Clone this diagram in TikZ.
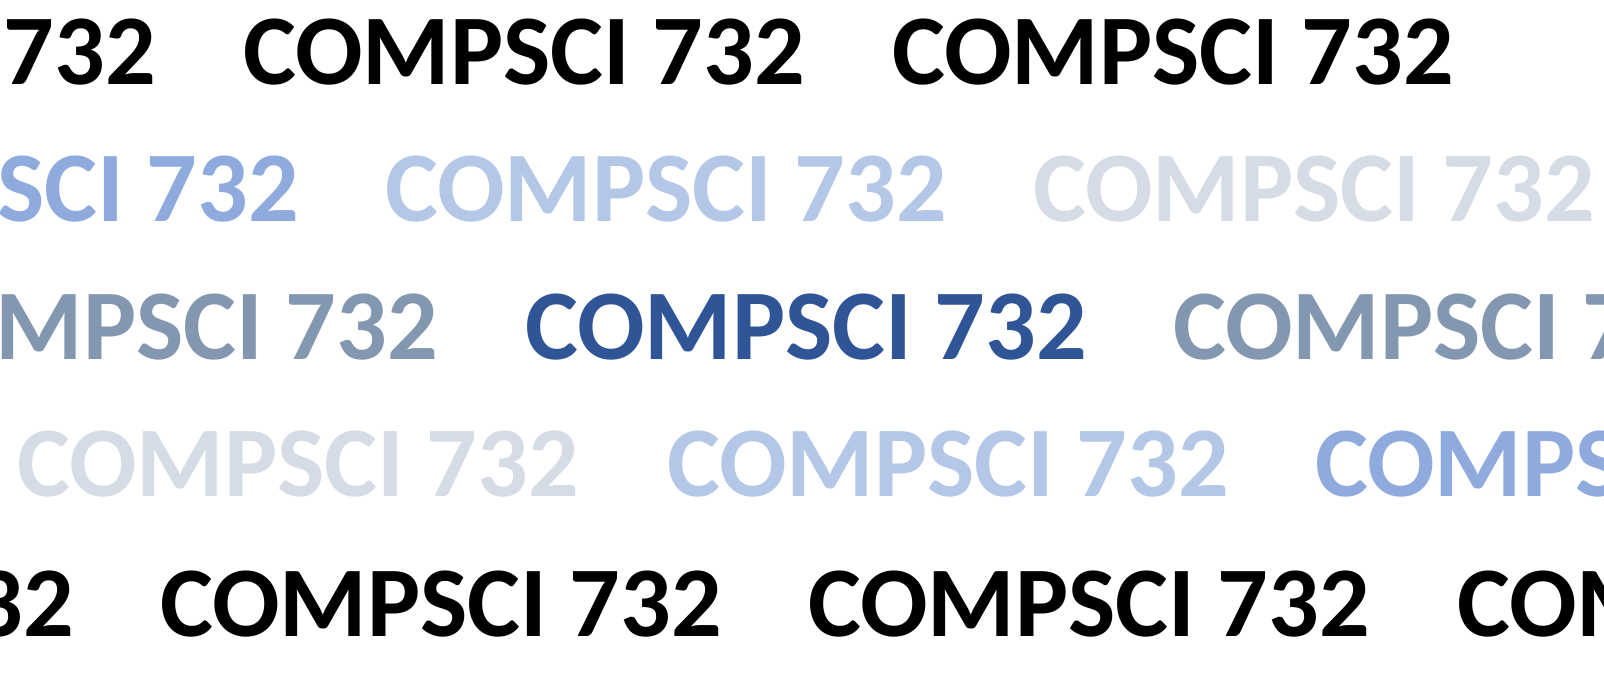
\documentclass[tikz,border=0pt]{standalone}
\usepackage{fontspec}
\setmainfont{Carlito}
\definecolor{cblack}{HTML}{000000}
\definecolor{cmid}{HTML}{8FAADC}
\definecolor{clight}{HTML}{B4C7E7}
\definecolor{cpale}{HTML}{D6DCE5}
\definecolor{cgray}{HTML}{8497B0}
\definecolor{cdark}{HTML}{2F5597}
\begin{document}
\begin{tikzpicture}[x=1pt,y=1pt,
  lbl/.style={anchor=base west,inner sep=0pt,outer sep=0pt,font=\fontsize{100}{100}\selectfont\bfseries}]
\useasboundingbox (0,0) rectangle (1604,685);
\clip (0,0) rectangle (1604,685);
% row 1
\node[lbl,text=cblack] (r1a) at (-406,600) {COMPSCI 732};
\node[lbl,text=cblack] (r1b) at (243,600) {COMPSCI 732};
\node[lbl,text=cblack] (r1c) at (892,600) {COMPSCI 732};
% row 2
\node[lbl,text=cmid] (r2a) at (-263,463) {COMPSCI 732};
\node[lbl,text=clight] (r2b) at (385,463) {COMPSCI 732};
\node[lbl,text=cpale] (r2c) at (1033,463) {COMPSCI 732};
% row 3
\node[lbl,text=cgray] (r3a) at (-124,325) {COMPSCI 732};
\node[lbl,text=cdark] (r3b) at (525,325) {COMPSCI 732};
\node[lbl,text=cgray] (r3c) at (1173,325) {COMPSCI 732};
% row 4
\node[lbl,text=cpale] (r4a) at (17,188) {COMPSCI 732};
\node[lbl,text=clight] (r4b) at (667,188) {COMPSCI 732};
\node[lbl,text=cmid] (r4c) at (1315,188) {COMPSCI 732};
% row 5
\node[lbl,text=cblack] (r5a) at (-488,48) {COMPSCI 732};
\node[lbl,text=cblack] (r5b) at (160,48) {COMPSCI 732};
\node[lbl,text=cblack] (r5c) at (808,48) {COMPSCI 732};
\node[lbl,text=cblack] (r5d) at (1457,48) {COMPSCI 732};
\end{tikzpicture}
\end{document}
